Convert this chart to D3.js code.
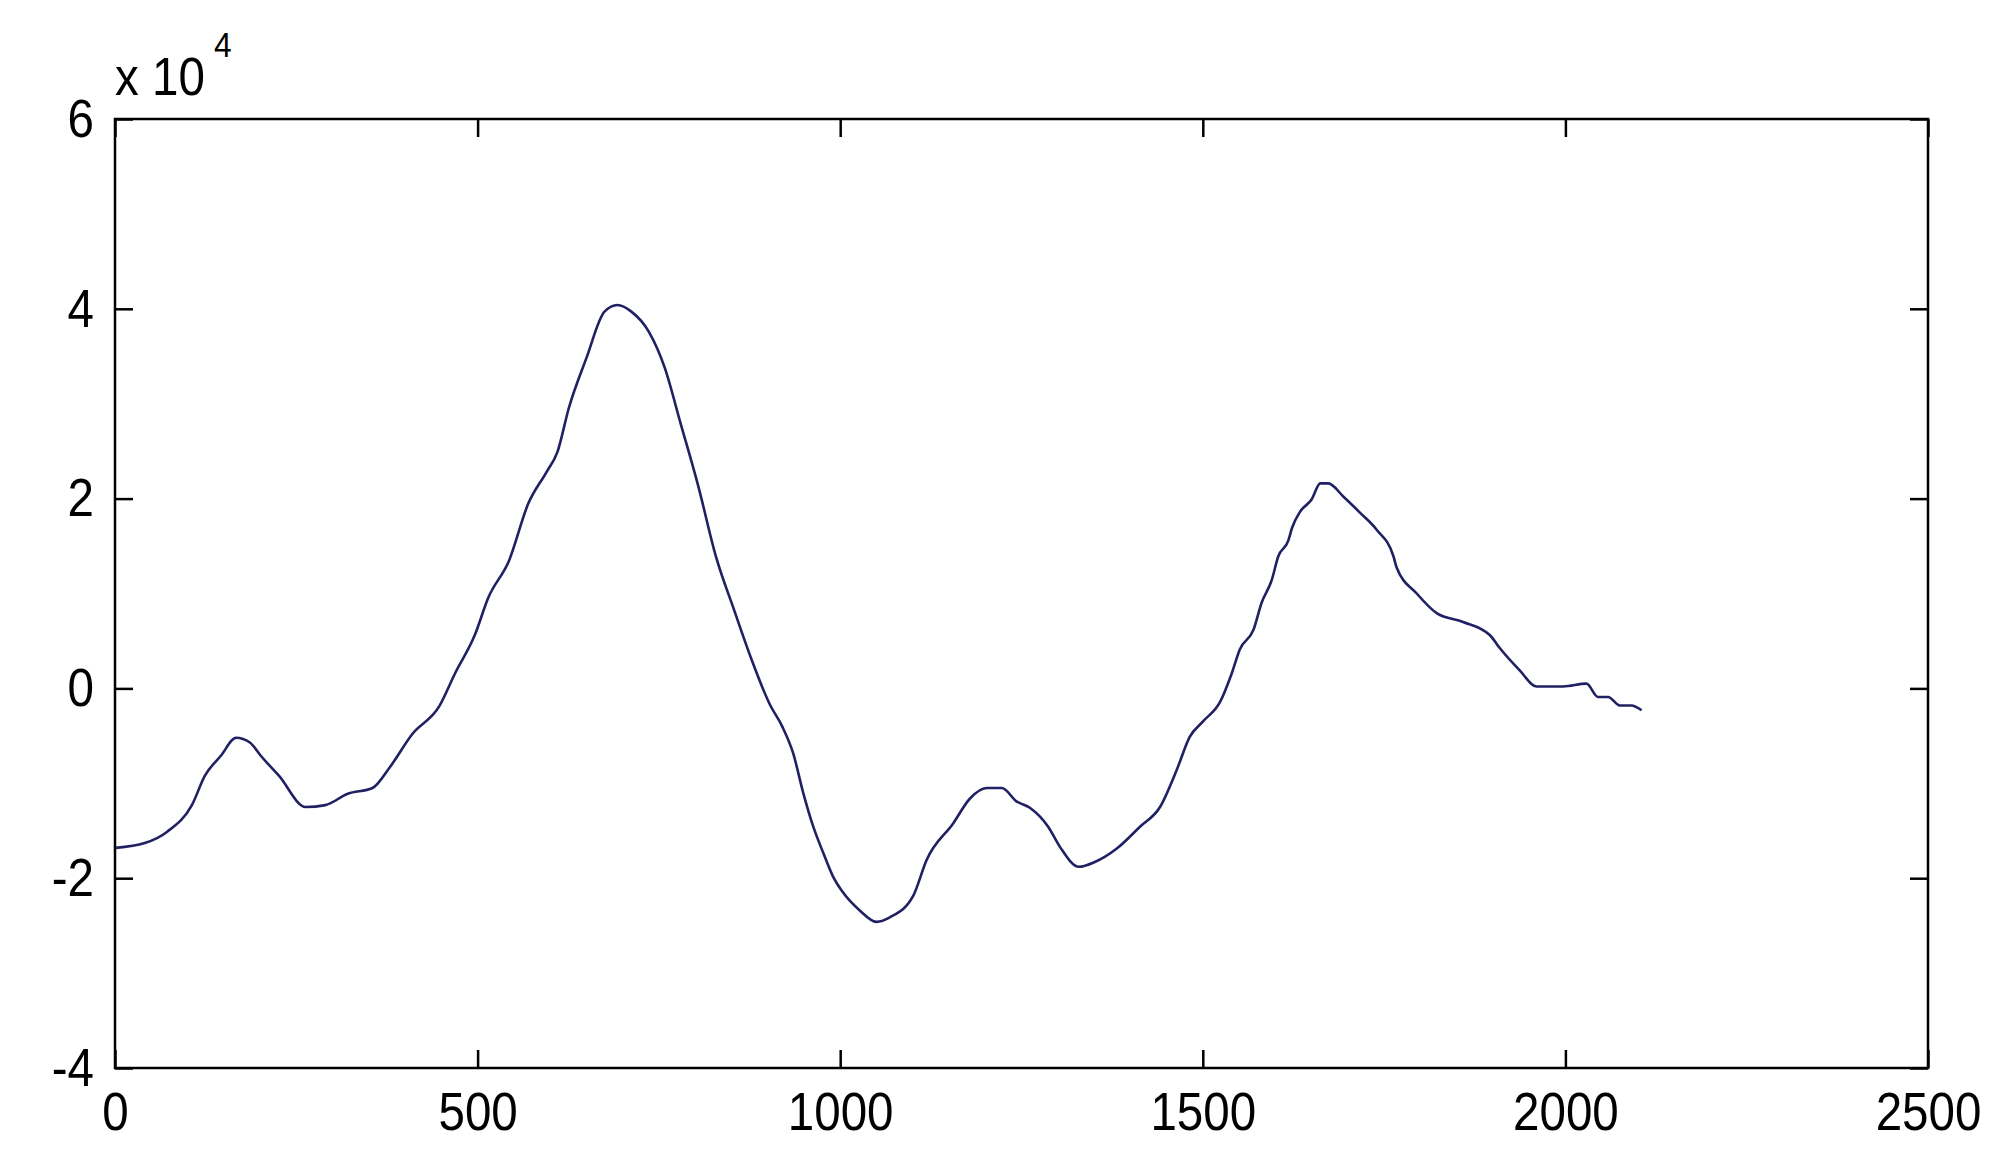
<!DOCTYPE html>
<html>
<head>
<meta charset="utf-8">
<script src="https://cdn.jsdelivr.net/npm/d3@7"></script>
<style>
  html, body { margin: 0; padding: 0; background: #ffffff; }
  svg { display: block; }
  text { font-family: "Liberation Sans", Arial, sans-serif; fill: #000; }
</style>
</head>
<body>
<svg id="chart" width="2004" height="1160"></svg>
<script>
// Sample index (x) and signal value in units of 10^4 (y)
const xs = [1, 41, 72, 106, 124, 146, 167, 186, 201, 226, 263, 290, 321, 355, 379, 410, 447, 469, 496, 515, 543, 570, 595, 610, 626, 650, 675, 693, 712, 736, 758, 780, 804, 829, 854, 878, 903, 920, 935, 949, 963, 977, 990, 1002, 1027, 1050, 1069, 1101, 1119, 1156, 1179, 1202, 1223, 1243, 1262, 1287, 1303, 1329, 1351, 1381, 1413, 1441, 1464, 1482, 1500, 1524, 1540, 1551, 1570, 1581, 1595, 1604, 1618, 1623, 1634, 1650, 1662, 1673, 1694, 1717, 1740, 1763, 1767, 1795, 1823, 1859, 1896, 1910, 1937, 1960, 1997, 2029, 2045, 2059, 2075, 2091, 2105];
const ys = [-1.68, -1.63, -1.51, -1.23, -0.92, -0.71, -0.52, -0.57, -0.71, -0.92, -1.25, -1.23, -1.11, -1.05, -0.83, -0.48, -0.19, 0.16, 0.56, 0.96, 1.34, 1.95, 2.28, 2.49, 2.96, 3.48, 3.97, 4.04, 3.97, 3.76, 3.38, 2.79, 2.14, 1.38, 0.82, 0.30, -0.17, -0.40, -0.68, -1.10, -1.46, -1.74, -1.98, -2.13, -2.34, -2.46, -2.41, -2.18, -1.81, -1.42, -1.16, -1.05, -1.05, -1.19, -1.26, -1.46, -1.67, -1.88, -1.83, -1.69, -1.46, -1.25, -0.86, -0.51, -0.35, -0.14, 0.16, 0.41, 0.62, 0.90, 1.14, 1.39, 1.56, 1.69, 1.86, 1.99, 2.16, 2.16, 2.02, 1.85, 1.67, 1.39, 1.28, 1.00, 0.79, 0.70, 0.56, 0.42, 0.19, 0.02, 0.02, 0.05, -0.09, -0.09, -0.18, -0.18, -0.23];

const xTicks = [0, 500, 1000, 1500, 2000, 2500];
const yTicks = [-4, -2, 0, 2, 4, 6];
const xDomain = [0, 2500];
const yDomain = [-4, 6];
const exponentBase = "x 10";
const exponentPower = "4";

const L = 115, R = 1928, T = 119, B = 1068;
const svg = d3.select("#chart");

const x = d3.scaleLinear().domain(xDomain).range([L, R]);
const y = d3.scaleLinear().domain(yDomain).range([B, T]);

const tickLen = 18;
const fontSize = 54;
const squeeze = 0.88;
const fmt = d => String(d); // plain hyphen-minus, as in the reference

// Box
svg.append("rect")
  .attr("x", L).attr("y", T).attr("width", R - L).attr("height", B - T)
  .attr("fill", "#ffffff").attr("stroke", "#000").attr("stroke-width", 2.5);

function styleAxis(g, showText) {
  g.select(".domain").remove();
  g.selectAll(".tick line").attr("stroke", "#000").attr("stroke-width", 2.5);
  g.selectAll(".tick text")
    .style("font-size", fontSize + "px")
    .attr("fill", "#000");
  if (!showText) g.selectAll(".tick text").remove();
}

svg.append("g").attr("transform", `translate(0,${B})`)
  .call(d3.axisBottom(x).tickValues(xTicks).tickFormat(fmt)
    .tickSizeInner(-tickLen).tickSizeOuter(0).tickPadding(24))
  .call(g => styleAxis(g, true))
  .call(g => g.selectAll(".tick text").attr("transform", `scale(${squeeze},1)`));

svg.append("g").attr("transform", `translate(0,${T})`)
  .call(d3.axisTop(x).tickValues(xTicks).tickSizeInner(-tickLen).tickSizeOuter(0))
  .call(g => styleAxis(g, false));

svg.append("g").attr("transform", `translate(${L},0)`)
  .call(d3.axisLeft(y).tickValues(yTicks).tickFormat(fmt)
    .tickSizeInner(-tickLen).tickSizeOuter(0).tickPadding(21))
  .call(g => styleAxis(g, true))
  .call(g => g.selectAll(".tick text")
    .attr("x", -21 / squeeze)
    .attr("transform", `scale(${squeeze},1)`));

svg.append("g").attr("transform", `translate(${R},0)`)
  .call(d3.axisRight(y).tickValues(yTicks).tickSizeInner(-tickLen).tickSizeOuter(0))
  .call(g => styleAxis(g, false));

// Exponent label
svg.append("text")
  .attr("transform", `translate(${L},95) scale(${squeeze},1)`)
  .style("font-size", fontSize + "px")
  .text(exponentBase);
svg.append("text")
  .attr("transform", `translate(214,57) scale(${squeeze},1)`)
  .style("font-size", "36px")
  .text(exponentPower);

// Line
const data = xs.map((v, i) => [v, ys[i]]);
const line = d3.line()
  .x(d => x(d[0]))
  .y(d => y(d[1]))
  .curve(d3.curveMonotoneX);

svg.append("path")
  .datum(data)
  .attr("d", line)
  .attr("fill", "none")
  .attr("stroke", "#202062")
  .attr("stroke-width", 2.6)
  .attr("stroke-linejoin", "round");
</script>
</body>
</html>
